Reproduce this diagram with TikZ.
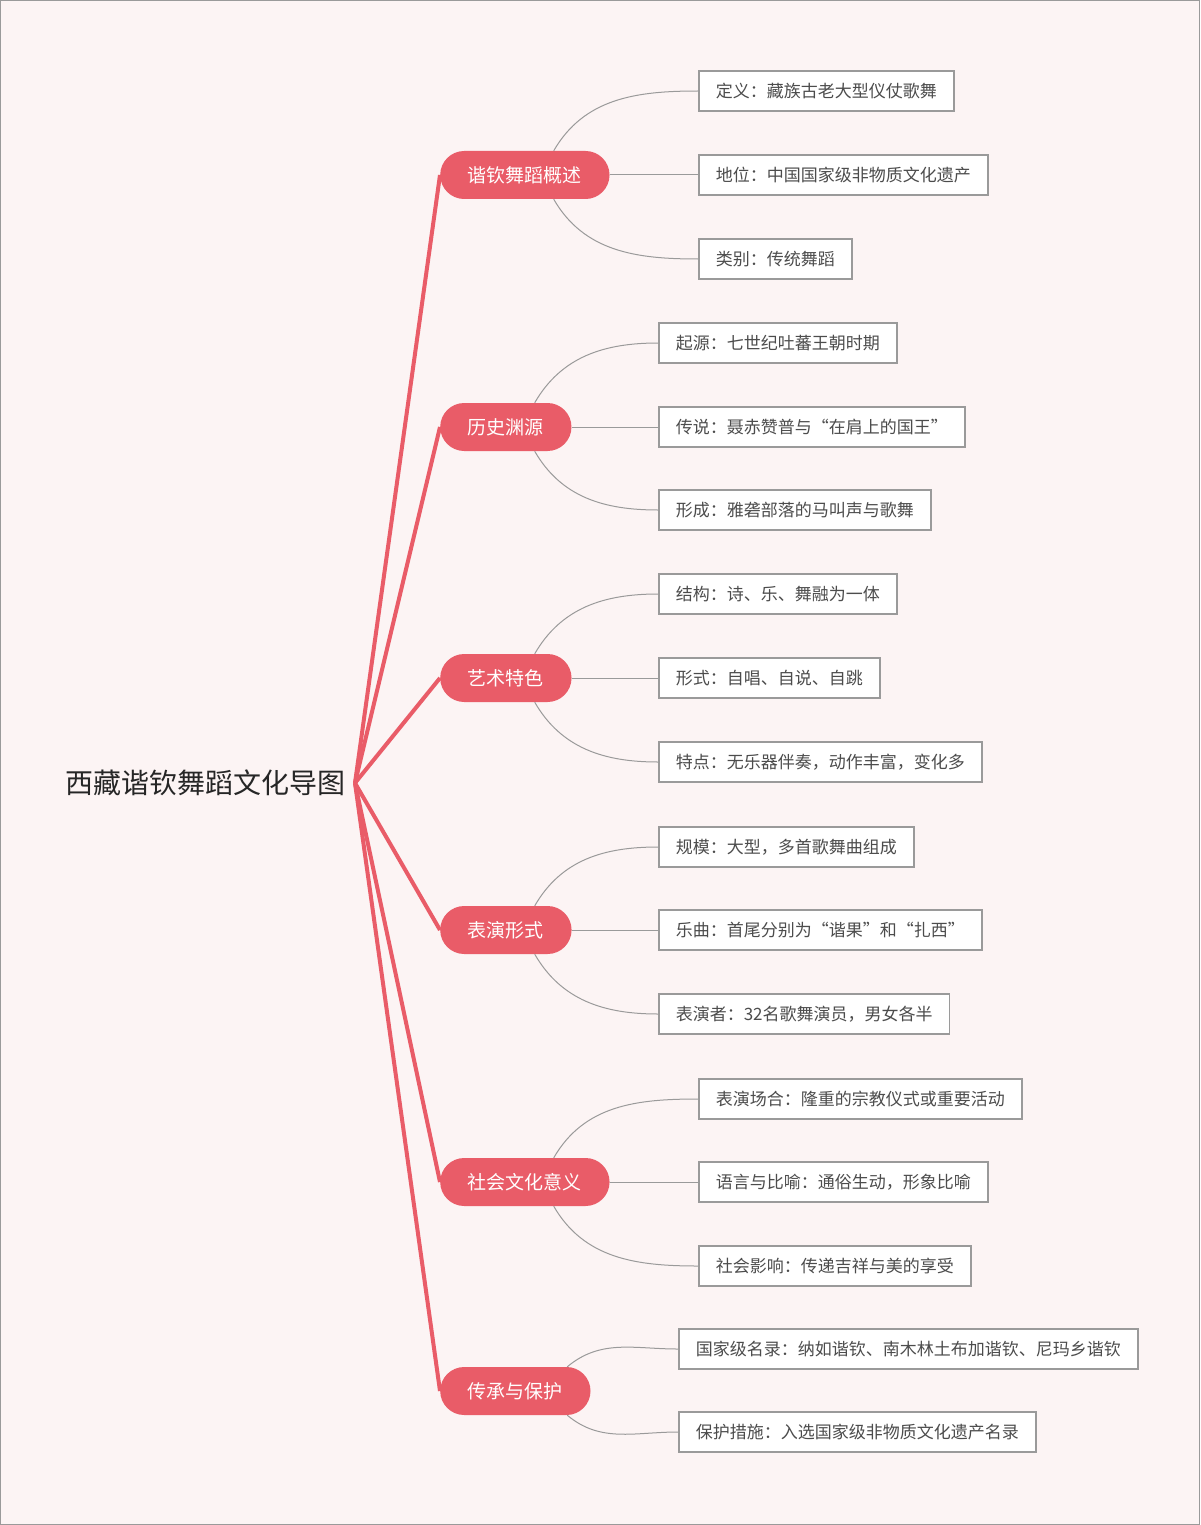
\documentclass[tikz,border=0pt]{standalone}
\usepackage{fontspec}
\setmainfont{Noto Sans CJK SC}
\usetikzlibrary{shapes.misc}
\definecolor{branchred}{HTML}{E95C68}
\definecolor{leafgray}{HTML}{9A9A9A}
\definecolor{bgpink}{HTML}{FCF4F4}
\tikzset{
  branch/.style={rounded rectangle, fill=branchred, text=white, minimum height=48pt,
    inner xsep=26pt, font=\fontsize{19}{19}\selectfont, anchor=west},
  leaf/.style={rectangle, draw=leafgray, line width=1.5pt, fill=white, text=black!70,
    minimum height=40pt, inner xsep=17pt, font=\fontsize{17}{17}\selectfont, anchor=west},
  trunk/.style={branchred, line width=4pt},
  twig/.style={leafgray, line width=1pt}
}
\begin{document}
\begin{tikzpicture}[x=1pt,y=-1pt]
% background
\fill[bgpink] (0,0) rectangle (1200,1525);
\draw[leafgray] (0.5,0.5) rectangle (1199.5,1524.5);
\useasboundingbox (0,0) rectangle (1200,1525);
% root
\node[font=\fontsize{28}{28}\selectfont, text=black!85] (root) at (205,783) {西藏谐钦舞蹈文化导图};
\coordinate (hub) at (355,783);
% branches
\node[branch] (gs) at (440,175) {谐钦舞蹈概述};
\node[branch] (ls) at (440,427) {历史渊源};
\node[branch] (ys) at (440,678) {艺术特色};
\node[branch] (by) at (440,930) {表演形式};
\node[branch] (sh) at (440,1182) {社会文化意义};
\node[branch] (cc) at (440,1391) {传承与保护};
\foreach \b in {gs,ls,ys,by,sh,cc}
  \draw[trunk] (hub) -- (\b.west);
% leaves
\node[leaf] (gs1) at (698,91) {定义：藏族古老大型仪仗歌舞};
\node[leaf] (gs2) at (698,175) {地位：中国国家级非物质文化遗产};
\node[leaf] (gs3) at (698,259) {类别：传统舞蹈};
\node[leaf] (ls1) at (658,343) {起源：七世纪吐蕃王朝时期};
\node[leaf] (ls2) at (658,427) {传说：聂赤赞普与“在肩上的国王”};
\node[leaf] (ls3) at (658,510) {形成：雅砻部落的马叫声与歌舞};
\node[leaf] (ys1) at (658,594) {结构：诗、乐、舞融为一体};
\node[leaf] (ys2) at (658,678) {形式：自唱、自说、自跳};
\node[leaf] (ys3) at (658,762) {特点：无乐器伴奏，动作丰富，变化多};
\node[leaf] (by1) at (658,847) {规模：大型，多首歌舞曲组成};
\node[leaf] (by2) at (658,930) {乐曲：首尾分别为“谐果”和“扎西”};
\node[leaf] (by3) at (658,1014) {表演者：32名歌舞演员，男女各半};
\node[leaf] (sh1) at (698,1099) {表演场合：隆重的宗教仪式或重要活动};
\node[leaf] (sh2) at (698,1182) {语言与比喻：通俗生动，形象比喻};
\node[leaf] (sh3) at (698,1266) {社会影响：传递吉祥与美的享受};
\node[leaf] (cc1) at (678,1349) {国家级名录：纳如谐钦、南木林土布加谐钦、尼玛乡谐钦};
\node[leaf] (cc2) at (678,1432) {保护措施：入选国家级非物质文化遗产名录};
% twigs
\foreach \b in {gs,ls,ys,by,sh} {
  \draw[twig] (\b.40) to[out=60,in=180] (\b1.west);
  \draw[twig] (\b.east) -- (\b2.west);
  \draw[twig] (\b.-40) to[out=-60,in=180] (\b3.west);
}
\draw[twig] (cc.25) to[out=40,in=180] (cc1.west);
\draw[twig] (cc.-25) to[out=-40,in=180] (cc2.west);
\end{tikzpicture}
\end{document}
